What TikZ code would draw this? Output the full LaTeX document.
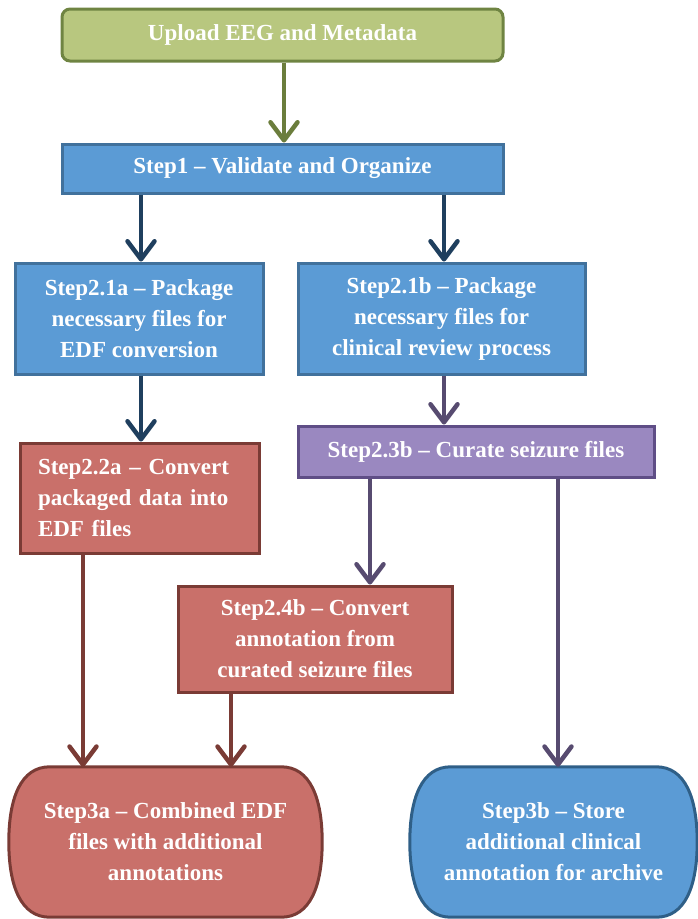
\documentclass[tikz,border=0pt]{standalone}
\usepackage{fontspec}
\setmainfont{Liberation Serif}
\usetikzlibrary{arrows.meta,calc,backgrounds}

\definecolor{greenfill}{HTML}{B8C77F}
\definecolor{greenline}{HTML}{6F8442}
\definecolor{greenarrow}{HTML}{6B7D3C}
\definecolor{bluefill}{HTML}{5B9BD5}
\definecolor{blueline}{HTML}{41719C}
\definecolor{bluedark}{HTML}{2F5F87}
\definecolor{navyarrow}{HTML}{1F3F5E}
\definecolor{redfill}{HTML}{C9706A}
\definecolor{redline}{HTML}{7A3B35}
\definecolor{purplefill}{HTML}{9A88C0}
\definecolor{purpleline}{HTML}{5F4E86}
\definecolor{purplearrow}{HTML}{574B70}

\tikzset{
  box/.style={draw, line width=3pt, text=white, align=center, inner sep=0pt,
    font=\fontsize{23}{31}\selectfont\bfseries},
  greenbox/.style={box, fill=greenfill, draw=greenline, rounded corners=8pt},
  bluebox/.style={box, fill=bluefill, draw=blueline},
  redbox/.style={box, fill=redfill, draw=redline},
  purplebox/.style={box, fill=purplefill, draw=purpleline},
  capsuletext/.style={text=white, align=center, inner sep=0pt,
    font=\fontsize{23}{31}\selectfont\bfseries},
  arr/.style={line width=4.5pt, -{Straight Barb[length=18pt,width=27pt,line cap=round,line join=round]}},
}

\newcommand{\capsulepath}[1]{%
  ($(#1.north west)+(41,0)$) -- ($(#1.north east)+(-41,0)$)
  .. controls ($(#1.north east)+(-12,0)$) and ($(#1.east)+(0,-44)$) .. (#1.east)
  .. controls ($(#1.east)+(0,44)$) and ($(#1.south east)+(-12,0)$) .. ($(#1.south east)+(-41,0)$)
  -- ($(#1.south west)+(41,0)$)
  .. controls ($(#1.south west)+(12,0)$) and ($(#1.west)+(0,44)$) .. (#1.west)
  .. controls ($(#1.west)+(0,-44)$) and ($(#1.north west)+(12,0)$) .. cycle}

\begin{document}
\begin{tikzpicture}[x=1pt,y=-1pt]
\useasboundingbox (0,0) rectangle (698,919);

% boxes
\node[greenbox, minimum width=441, minimum height=52] (up) at (282.5,35) {Upload EEG and Metadata};
\node[bluebox, minimum width=441, minimum height=49] (s1) at (282.5,168.5) {Step1 -- Validate and Organize};
\node[bluebox, minimum width=248, minimum height=111] (s21a) at (139,318.5)
  {Step2.1a -- Package\\necessary files for\\EDF conversion};
\node[bluebox, minimum width=287, minimum height=111] (s21b) at (441.5,318.5)
  {Step2.1b -- Package\\necessary files for\\clinical review process};
\node[redbox, minimum width=239, minimum height=110, align=left, text width=203] (s22a) at (139.5,498)
  {Step2.2a -- Convert\\packaged data into\\EDF files};
\node[purplebox, minimum width=356, minimum height=51] (s23b) at (476,451.5) {Step2.3b -- Curate seizure files};
\node[redbox, minimum width=274, minimum height=106] (s24b) at (315,639)
  {Step2.4b -- Convert\\annotation from\\curated seizure files};

% end states
\node[capsuletext, minimum width=313, minimum height=150] (s3a) at (165.5,842)
  {Step3a -- Combined EDF\\files with additional\\annotations};
\node[capsuletext, minimum width=287, minimum height=150] (s3b) at (553.5,842)
  {Step3b -- Store\\additional clinical\\annotation for archive};
\begin{scope}[on background layer]
  \draw[line width=3pt, draw=redline, fill=redfill] \capsulepath{s3a};
  \draw[line width=3pt, draw=bluedark, fill=bluefill] \capsulepath{s3b};
\end{scope}

% connector columns
\coordinate (xa) at (141,0);
\coordinate (xb) at (444,0);
\coordinate (xc) at (370,0);
\coordinate (xd) at (558,0);
\coordinate (xe) at (83,0);
\coordinate (xf) at (231,0);
\coordinate (xg) at (284,0);

% connectors
\draw[arr, greenarrow] (up.south -| xg) -- (s1.north -| xg);
\draw[arr, navyarrow] (s1.south -| xa) -- (s21a.north -| xa);
\draw[arr, navyarrow] (s1.south -| xb) -- (s21b.north -| xb);
\draw[arr, navyarrow] (s21a.south -| xa) -- (s22a.north -| xa);
\draw[arr, purplearrow] (s21b.south -| xb) -- (s23b.north -| xb);
\draw[arr, purplearrow] (s23b.south -| xc) -- (s24b.north -| xc);
\draw[arr, purplearrow] (s23b.south -| xd) -- (s3b.north -| xd);
\draw[arr, redline] (s22a.south -| xe) -- (s3a.north -| xe);
\draw[arr, redline] (s24b.south -| xf) -- (s3a.north -| xf);
\end{tikzpicture}
\end{document}
